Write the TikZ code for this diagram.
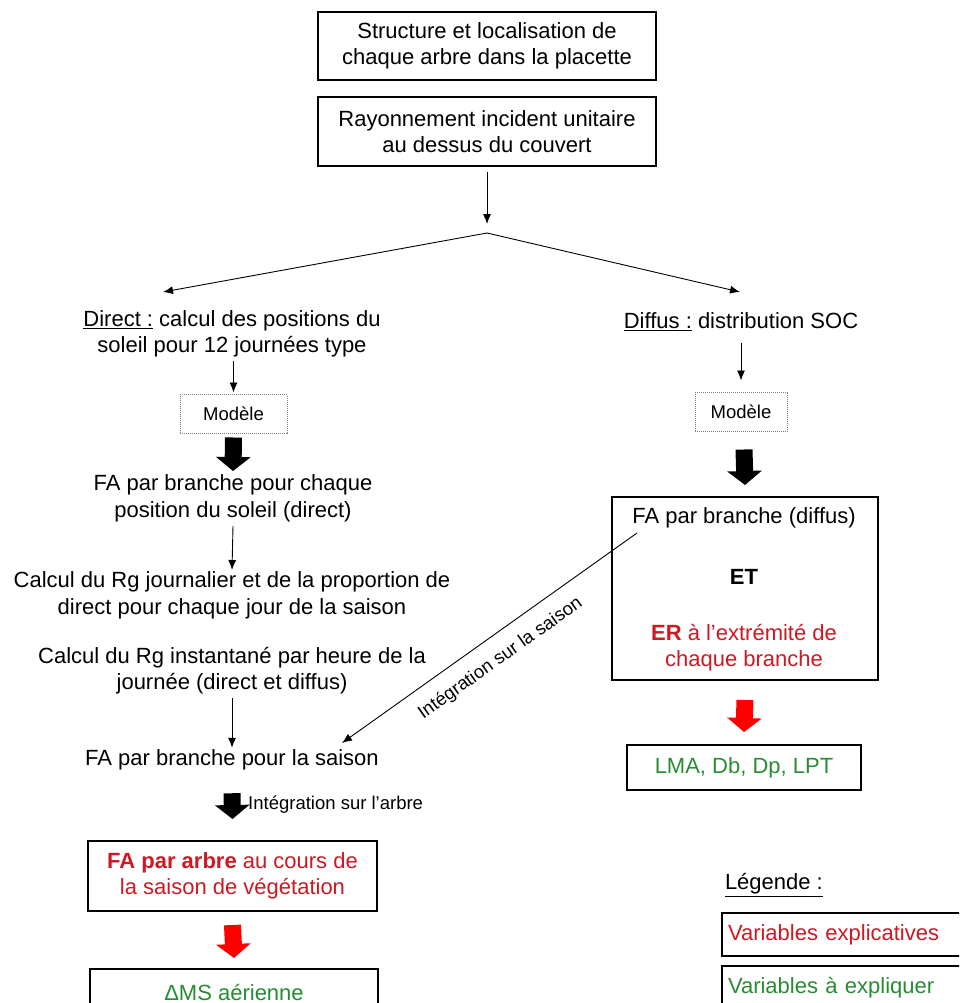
\documentclass[tikz,border=0pt]{standalone}
\usepackage{fontspec}
\setmainfont{Liberation Sans}
\usetikzlibrary{arrows.meta}
\definecolor{txtred}{RGB}{205,25,35}
\definecolor{txtgreen}{RGB}{40,140,50}
\definecolor{arrred}{RGB}{255,0,0}
\begin{document}
\begin{tikzpicture}[x=1pt,y=-1pt,
  every node/.style={inner sep=0pt, outer sep=0pt},
  txt/.style={align=center, font=\fontsize{22}{26.5}\selectfont},
  small/.style={font=\fontsize{18.5}{22}\selectfont},
  box/.style={draw, line width=1.2pt, txt},
  modbox/.style={draw=gray, densely dotted, line width=1pt, small, minimum width=#1, minimum height=39},
  arr/.style={-{Latex[length=10pt,width=8pt]}, line width=0.9pt},
  bigarr/.style={line width=17pt, -{Triangle[length=14pt,width=34pt]}},
]
\useasboundingbox (0,0) rectangle (959,1003);
\clip (0,0) rectangle (959,1003);
\fill[white] (0,0) rectangle (959,1003);

% top
\node[box, minimum width=338, minimum height=68] (b1) at (487,46) {Structure et localisation de\\chaque arbre dans la placette};
\node[box, minimum width=338, minimum height=69] (b2) at (487,131.5) {Rayonnement incident unitaire\\au dessus du couvert};
\coordinate (apex) at (487,233);
\coordinate (lend) at (163,292);
\coordinate (rend) at (740,292);
\draw[arr] ([yshift=-6pt]b2.south) -- ([yshift=9pt]apex);
\draw[arr] (apex) -- (lend);
\draw[arr] (apex) -- (rend);

% left column
\node[txt] (dir) at (232,334) {\underline{Direct :} calcul des positions du\\soleil pour 12 journées type};
\node[modbox=107] (mod1) at (233.5,414) {Modèle};
\node[txt] (fa1) at (233,498.5) {FA par branche pour chaque\\position du soleil (direct)};
\node[txt] (calc1) at (232,595.5) {Calcul du Rg journalier et de la proportion de\\direct pour chaque jour de la saison};
\node[txt] (calc2) at (232,670.5) {Calcul du Rg instantané par heure de la\\journée (direct et diffus)};
\node[txt] (fas) at (232,760) {FA par branche pour la saison};
\node[box, minimum width=289, minimum height=70] (fab) at (232.5,876) {\textcolor{txtred}{\textbf{FA par arbre} au cours de}\\\textcolor{txtred}{la saison de végétation}};
\node[box, minimum width=288, minimum height=46, anchor=north] (dms) at (234,969) {\textcolor{txtgreen}{ΔMS aérienne}};

\draw[arr] ([yshift=-3pt]dir.south -| mod1.north) -- ([yshift=2pt]mod1.north);
\draw[bigarr] ([yshift=-4pt]mod1.south) -- ([yshift=4pt]fa1.north);
\draw[arr] ([yshift=-4pt]fa1.south) -- ([yshift=2pt]calc1.north);
\draw[arr] ([yshift=-4pt]calc2.south) -- ([yshift=2pt]fas.north);
\draw[bigarr] ([yshift=-23pt]fas.south) -- ([yshift=22pt]fab.north) node[pos=0.45, right=16pt, small] {Intégration sur l'arbre};
\draw[bigarr, draw=arrred] ([yshift=-14pt]fab.south) -- ([yshift=11pt]dms.north);

% right column
\node[txt] (dif) at (741,322) {\underline{Diffus :} distribution SOC};
\node[modbox=92] (mod2) at (741,412) {Modèle};
\node[draw, line width=1.2pt, minimum width=266, minimum height=183] (b3) at (745,588.5) {};
\node[txt] (fadif) at (744,518) {FA par branche (diffus)};
\node[txt, font=\fontsize{22}{26.5}\selectfont\bfseries] (et) at (744,577) {ET};
\node[txt, text=txtred] (er) at (744,647.5) {\textbf{ER} à l'extrémité de\\chaque branche};
\node[box, minimum width=234, minimum height=45] (lma) at (744,767.5) {\textcolor{txtgreen}{LMA, Db, Dp, LPT}};

\draw[arr] ([yshift=-12pt]dif.south) -- ([yshift=12pt]mod2.north);
\draw[bigarr] ([xshift=3pt,yshift=-18pt]mod2.south) -- ([yshift=12pt]b3.north);
\draw[bigarr, draw=arrred] ([yshift=-20pt]b3.south) -- ([yshift=13pt]lma.north);

% diagonal
\coordinate (dstart) at (637,533);
\coordinate (dend) at (342,743);
\draw[arr] (dstart) -- (dend);
\node[small, rotate=35.4] (dlbl) at (500.5,658.5) {Intégration sur la saison};

% legend
\node[txt, anchor=west] (leg) at (725,885) {\underline{Légende :}};
\node[box, anchor=north west, minimum width=300, minimum height=43, text width=290, align=left, inner xsep=6pt] (lg1) at (722,913) {\textcolor{txtred}{Variables explicatives}};
\node[box, anchor=north west, minimum width=300, minimum height=43, text width=290, align=left, inner xsep=6pt] (lg2) at (722,966) {\textcolor{txtgreen}{Variables à expliquer}};
\end{tikzpicture}
\end{document}
